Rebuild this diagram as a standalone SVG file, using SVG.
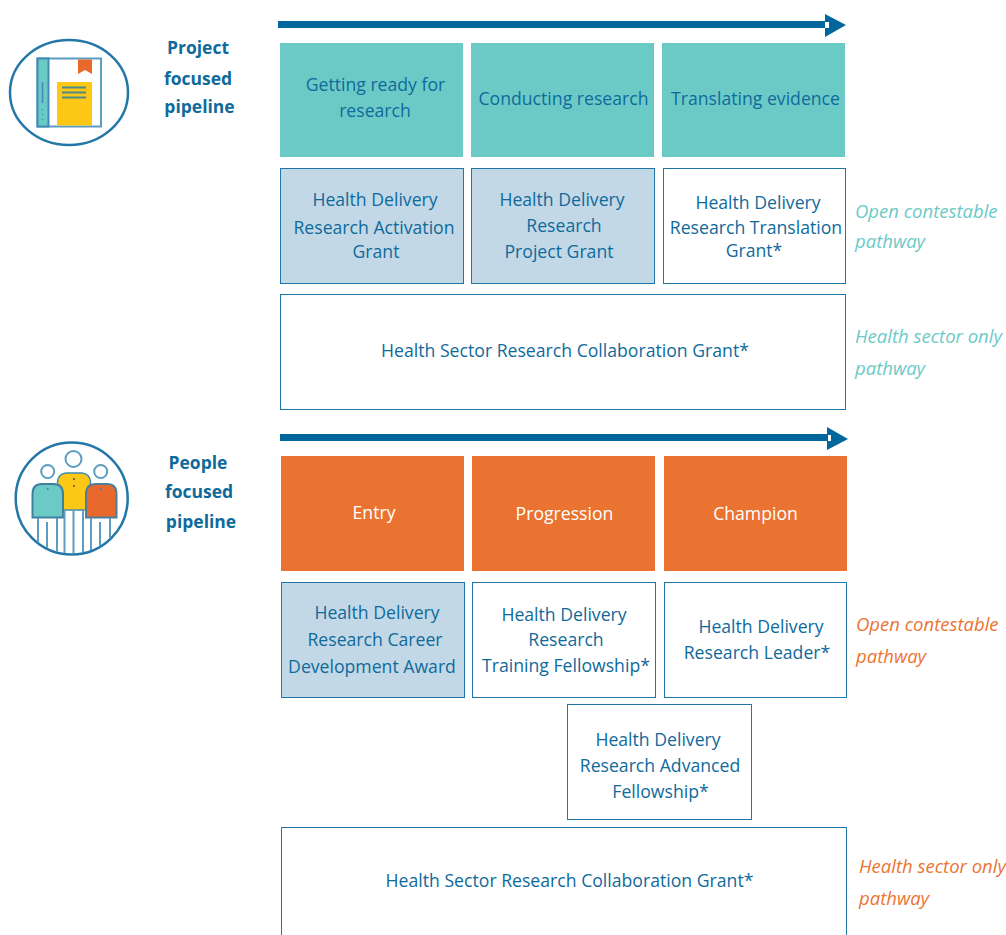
<svg xmlns="http://www.w3.org/2000/svg" width="1006" height="935" viewBox="0 0 1006 935">
<style>
text{font-family:"Open Sans","Liberation Sans",sans-serif;font-size:17.650px;fill:#0f6a9c}
.m{text-anchor:middle}
text.b{font-weight:700;font-size:17.500px;fill:#0f6a9c}
text.w{fill:#fff}
text.i{font-style:italic;font-size:18.500px}
text.pt{fill:#6ccac6}
text.po{fill:#ec7533}
.t{fill:#6ccac6}
.o{fill:#ea7331}
.box{stroke:#1f77a8;stroke-width:1}
.bl{fill:#c2d8e6}
.wh{fill:#fff}
.shaft{fill:#01669c}
</style>
<defs><clipPath id="c"><circle cx="71.700" cy="498.500" r="55"/></clipPath></defs>
<g id="connectors">
<rect class="shaft" x="278" y="21" width="547" height="7"/>
<path class="shaft" d="M825 14L846 25L825 37ZM825 22V28H829V22Z" fill-rule="evenodd"/>
<rect class="shaft" x="280" y="434" width="548" height="7"/>
<path class="shaft" d="M827 427L848 439L827 450ZM827 435V441H831V435Z" fill-rule="evenodd"/>
</g>
<g id="icon-book">
<ellipse cx="69" cy="92.500" rx="59" ry="52.500" fill="#fff" stroke="#2377a8" stroke-width="2.500"/>
<rect x="37.500" y="58.500" width="63.500" height="68" fill="#fff" stroke="#5b9cc0" stroke-width="2"/>
<rect x="37.500" y="58.500" width="11" height="68" fill="#6ccac6" stroke="#3f8bb3" stroke-width="2"/>
<path d="M42.500 82V103M42.500 109V110M42.500 114V115M42.500 119V120" stroke="#3f8bb3" stroke-width="1.500" fill="none"/>
<path d="M78 59.500H92V74L85 70L78 74Z" fill="#e9682c"/>
<rect x="57" y="82" width="35" height="43.500" fill="#fdc815"/>
<path d="M62 87.500H86M62 92.500H86M62 97.500H86" stroke="#4d8a8a" stroke-width="2" fill="none"/>
</g>
<g id="icon-people">
<circle cx="71.700" cy="498.500" r="56" fill="#fff" stroke="#2377a8" stroke-width="2.500"/>
<circle cx="73.500" cy="459" r="8" fill="#fff" stroke="#5b9cc0" stroke-width="2"/>
<circle cx="47.700" cy="471.500" r="6.500" fill="#fff" stroke="#5b9cc0" stroke-width="2"/>
<circle cx="100.700" cy="471.500" r="6.500" fill="#fff" stroke="#5b9cc0" stroke-width="2"/>
<path d="M59 510L57.500 482Q58 474 66 473H82Q90 474 90.500 482L89 510Z" fill="#fdc815" stroke="#3f8bb3" stroke-width="1.500"/>
<path d="M32.500 517.500V494Q32.500 484 42 484H53Q63 484 63 494V517.500Z" fill="#6ccac6" stroke="#3f7f9f" stroke-width="2"/>
<path d="M86 517.500V494Q86 484 96 484H107Q116.500 484 116.500 494V517.500Z" fill="#e9682c" stroke="#4d7f99" stroke-width="2"/>
<g clip-path="url(#c)"><path d="M38 518V556M47 522V556M57 518V556M64.500 511V556M73.500 511V556M83 511V556M91 518V556M100 522V556M110 518V556" stroke="#5b9cc0" stroke-width="2" fill="none"/></g>
<path d="M74 478V480M74 485V487" stroke="#7a6a30" stroke-width="2"/>
<path d="M47.700 488V490M100.700 488V490" stroke="#4d7f99" stroke-width="1.500"/>
</g>
<g id="label-project">
<text class="b m" x="198" y="54">Project</text>
<text class="b m" x="198" y="85">focused</text>
<text class="b m" x="199.500" y="113">pipeline</text>
</g>
<g id="label-people">
<text class="b m" x="198" y="469">People</text>
<text class="b m" x="199" y="498">focused</text>
<text class="b m" x="201" y="528">pipeline</text>
</g>
<g id="stage-1"><rect class="t" x="280" y="43" width="183" height="114"/><text class="m" x="375.500" y="91">Getting ready for</text><text class="m" x="375" y="117">research</text></g>
<g id="stage-2"><rect class="t" x="471" y="43" width="183" height="114"/><text class="m" x="563.500" y="105">Conducting research</text></g>
<g id="stage-3"><rect class="t" x="662" y="43" width="183" height="114"/><text class="m" x="755.500" y="105">Translating evidence</text></g>
<g id="grant-activation"><rect class="box bl" x="280.500" y="168.500" width="183" height="115"/><text class="m" x="375" y="206">Health Delivery</text><text class="m" x="374" y="234">Research Activation</text><text class="m" x="376" y="258">Grant</text></g>
<g id="grant-project"><rect class="box bl" x="471.500" y="168.500" width="183" height="115"/><text class="m" x="562" y="206">Health Delivery</text><text class="m" x="564" y="232">Research</text><text class="m" x="559" y="258">Project Grant</text></g>
<g id="grant-translation"><rect class="box wh" x="663.500" y="168.500" width="182" height="115"/><text class="m" x="758" y="209">Health Delivery</text><text class="m" x="756" y="234">Research Translation</text><text class="m" x="754" y="257">Grant*</text></g>
<g id="collab-1"><rect class="box wh" x="280.500" y="294.500" width="565" height="115"/><text class="m" x="565" y="357">Health Sector Research Collaboration Grant*</text></g>
<g id="stage-entry"><rect class="o" x="281" y="456" width="183" height="115"/><text class="m w" x="374" y="519">Entry</text></g>
<g id="stage-progression"><rect class="o" x="472" y="456" width="183" height="115"/><text class="m w" x="564.500" y="520">Progression</text></g>
<g id="stage-champion"><rect class="o" x="664" y="456" width="183" height="115"/><text class="m w" x="755.500" y="520">Champion</text></g>
<g id="award-career"><rect class="box bl" x="281.500" y="582.500" width="183" height="115"/><text class="m" x="377" y="619">Health Delivery</text><text class="m" x="375" y="646">Research Career</text><text class="m" x="372" y="673">Development Award</text></g>
<g id="award-training"><rect class="box wh" x="472.500" y="582.500" width="183" height="115"/><text class="m" x="564" y="621">Health Delivery</text><text class="m" x="566" y="646">Research</text><text class="m" x="566" y="672">Training Fellowship*</text></g>
<g id="award-leader"><rect class="box wh" x="664.500" y="582.500" width="182" height="115"/><text class="m" x="761" y="633">Health Delivery</text><text class="m" x="757" y="659">Research Leader*</text></g>
<g id="award-advanced"><rect class="box wh" x="567.500" y="704.500" width="184" height="115"/><text class="m" x="658" y="746">Health Delivery</text><text class="m" x="660" y="772">Research Advanced</text><text class="m" x="660.500" y="798">Fellowship*</text></g>
<g id="collab-2"><rect class="box wh" x="281.500" y="827.500" width="565" height="115"/><text class="m" x="569.500" y="887">Health Sector Research Collaboration Grant*</text></g>
<g id="pathway-labels">
<text class="i pt" x="855" y="218">Open contestable</text>
<text class="i pt" x="855" y="248">pathway</text>
<text class="i pt" x="855" y="343">Health sector only</text>
<text class="i pt" x="855" y="375">pathway</text>
<text class="i po" x="856" y="631">Open contestable</text>
<text class="i po" x="856" y="663">pathway</text>
<text class="i po" x="859" y="873">Health sector only</text>
<text class="i po" x="859" y="905">pathway</text>
</g>
</svg>
